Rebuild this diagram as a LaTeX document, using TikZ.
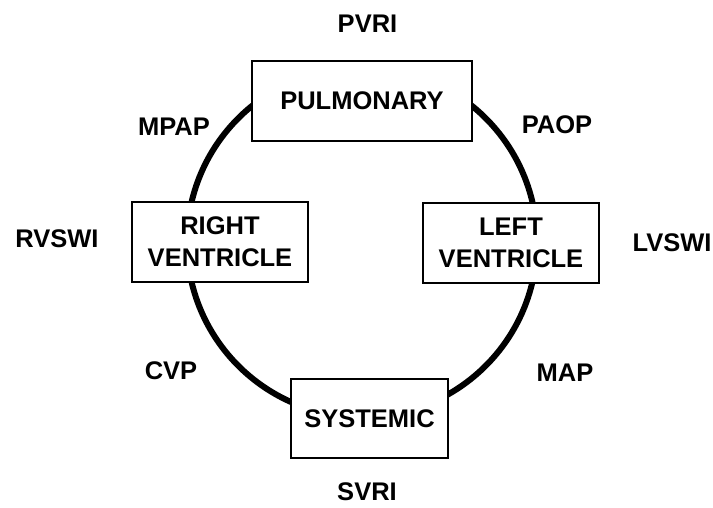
\documentclass[tikz,border=0pt]{standalone}
\usepackage{fontspec}
\setmainfont{Liberation Sans}
\usetikzlibrary{backgrounds}
\begin{document}
\begin{tikzpicture}[x=1pt,y=-1pt,
  every node/.style={font=\bfseries\fontsize{25.5}{32}\selectfont, inner sep=0pt},
  organ/.style={draw=black, line width=2.6pt, fill=white, align=center, minimum height=80pt},
  loopline/.style={line width=6pt, draw=black},
  lbl/.style={}]
\useasboundingbox (0,0) rectangle (713,508);
\coordinate (ctr) at (362,242);
\node[organ, minimum width=220pt] (pul) at (362,101) {PULMONARY};
\node[organ, minimum width=176pt] (rv) at (220,242) {RIGHT\\VENTRICLE};
\node[organ, minimum width=176pt] (lv) at (511,243) {LEFT\\VENTRICLE};
\node[organ, minimum width=157pt, minimum height=79pt] (sys) at (369.5,418.5) {SYSTEMIC};
\begin{scope}[on background layer]
  \draw[loopline] (ctr) ++(90:175) coordinate (a1) arc[start angle=90, end angle=180, radius=175];
  \draw[loopline] (ctr) ++(180:175) coordinate (a2) arc[start angle=180, end angle=270, radius=175];
  \draw[loopline] (ctr) ++(270:175) coordinate (a3) arc[start angle=270, end angle=360, radius=175];
  \draw[loopline] (ctr) ++(0:175) coordinate (a4) arc[start angle=0, end angle=90, radius=175];
\end{scope}
\node[lbl] (pvri) at (367.5,24) {PVRI};
\node[lbl] (mpap) at (174,127) {MPAP};
\node[lbl] (paop) at (557,125) {PAOP};
\node[lbl] (rvswi) at (57,239) {RVSWI};
\node[lbl] (lvswi) at (672,243) {LVSWI};
\node[lbl] (cvp) at (171,371) {CVP};
\node[lbl] (map) at (565,373) {MAP};
\node[lbl] (svri) at (367,492) {SVRI};
\end{tikzpicture}
\end{document}
